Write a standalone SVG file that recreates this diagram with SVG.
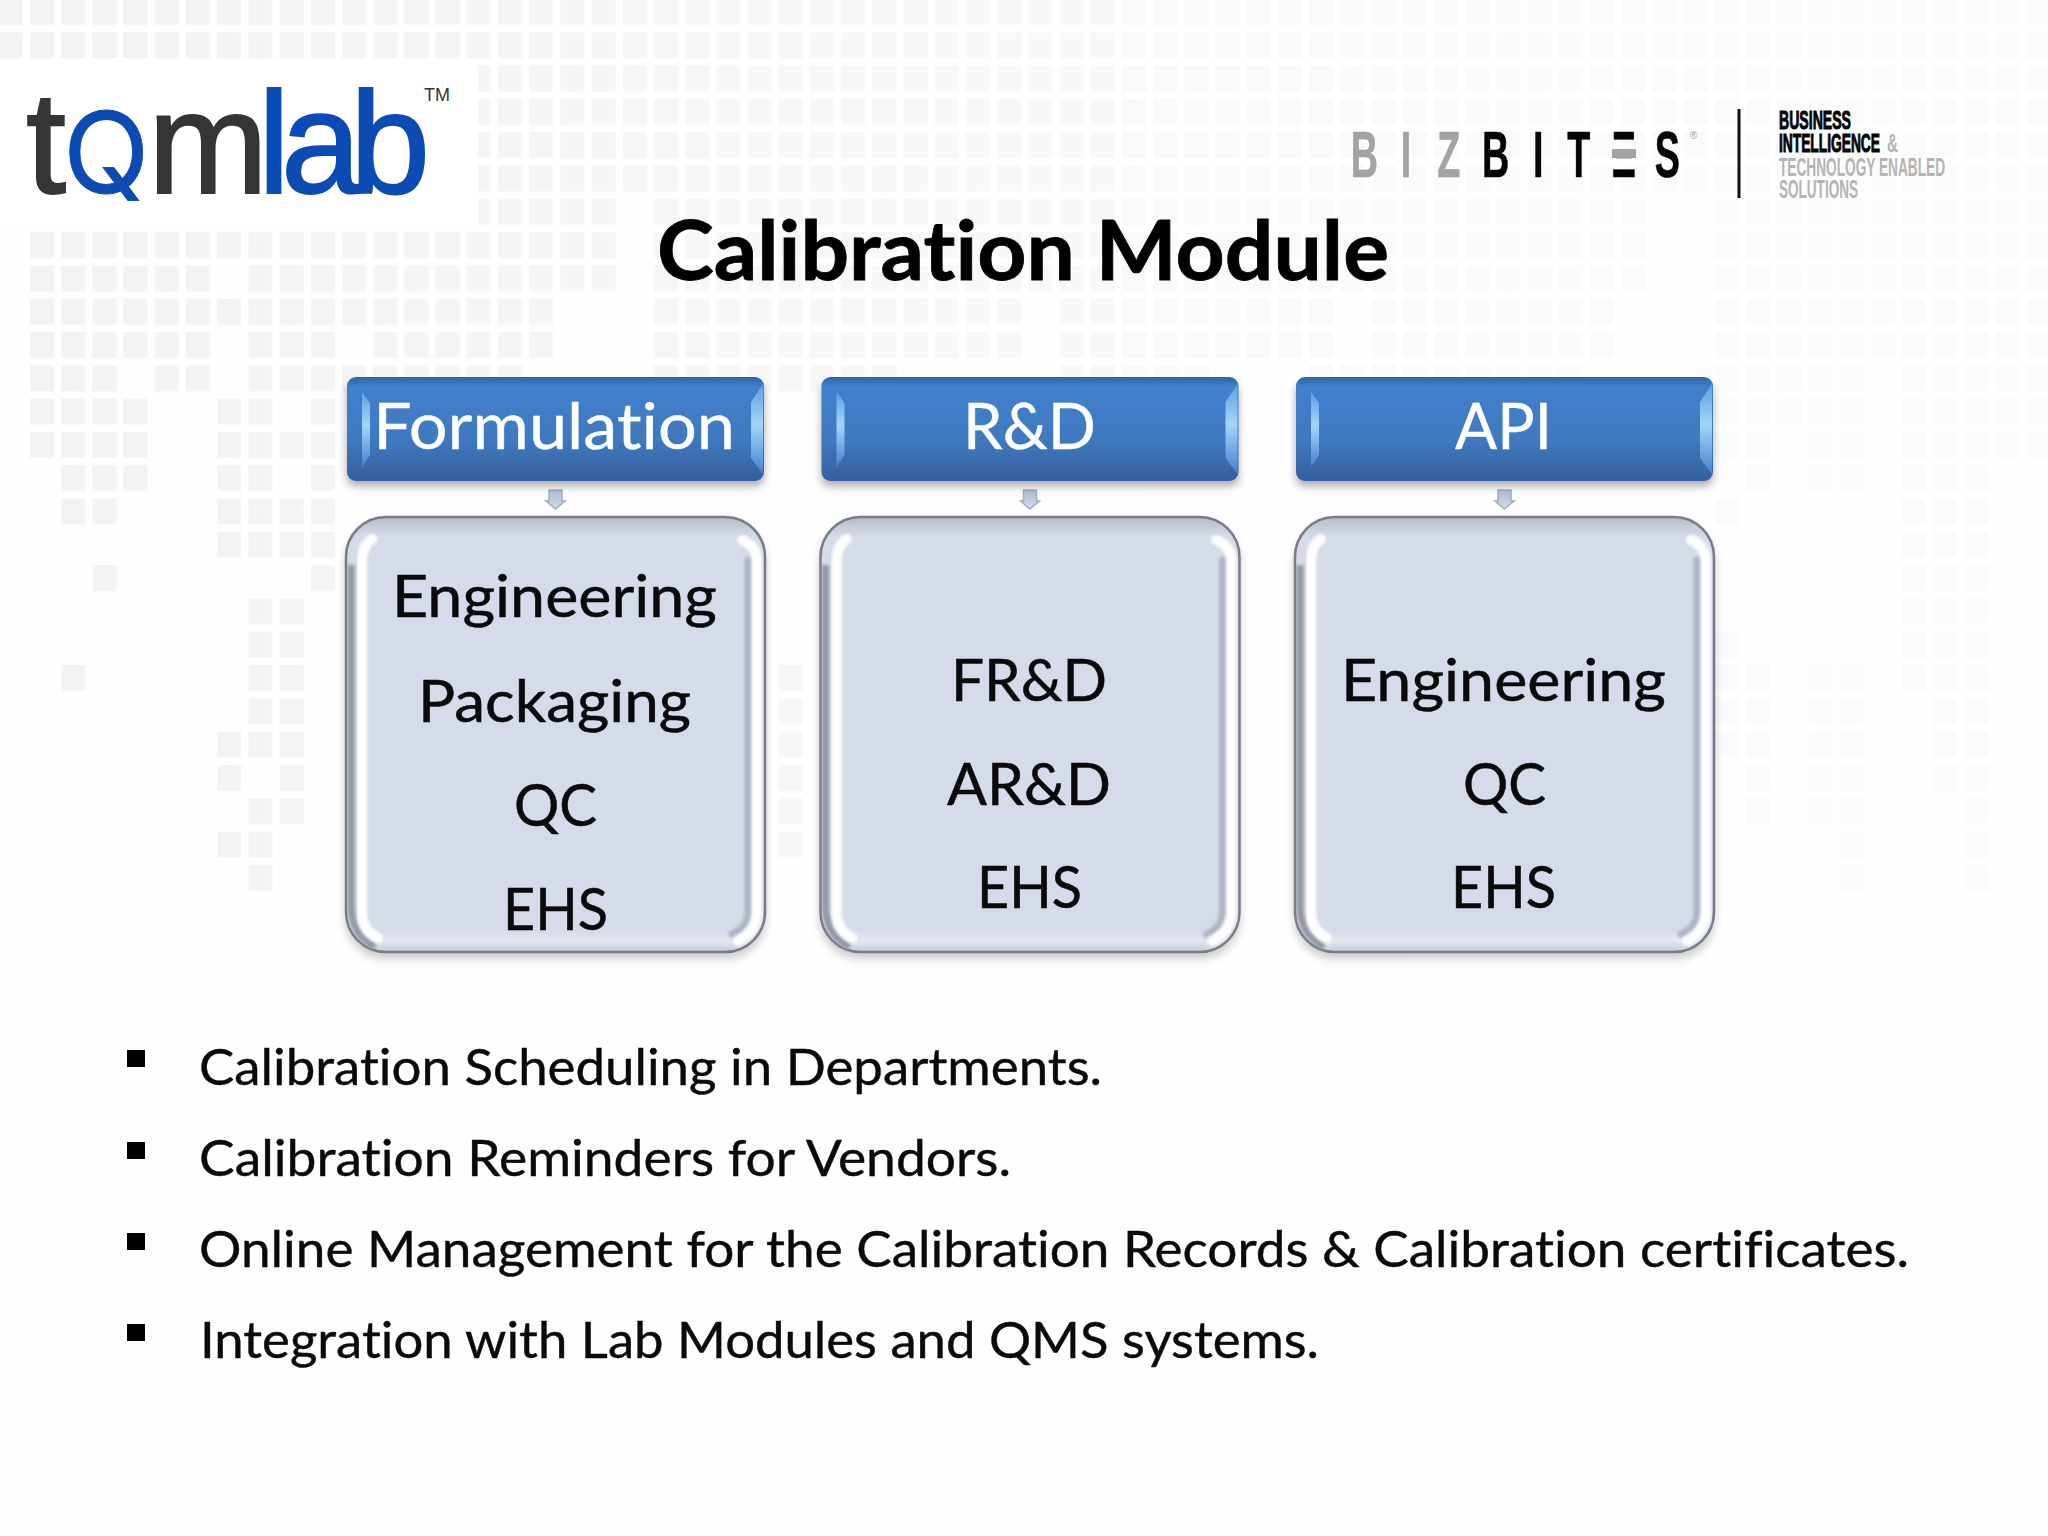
<svg xmlns="http://www.w3.org/2000/svg" xmlns:xlink="http://www.w3.org/1999/xlink" width="2048" height="1536" viewBox="0 0 2048 1536">
<style>
text{font-family:"Lato","Liberation Sans",sans-serif;font-variant-ligatures:none}
.hd{font-size:64px;fill:#fbfdff;stroke:#fbfdff;stroke-width:.4px}
.bd{font-size:58px;fill:#0a0a0a;stroke:#0a0a0a;stroke-width:.5px}
.bl{font-size:50px;fill:#0a0a0a;stroke:#0a0a0a;stroke-width:.4px}
.logo{font-family:"Liberation Sans",Arial,sans-serif;font-size:144px;stroke-width:2px}
.dk{fill:#353537;stroke:#353537}.bu{fill:#0b4bb3;stroke:#0b4bb3}
.bz{font-family:"Liberation Sans",Arial,sans-serif;font-weight:700;font-size:65px;stroke-width:.6px}
.gy{fill:#a3a3a3;stroke:#a3a3a3}.bk{fill:#050505;stroke:#050505}
.tg{font-family:"Liberation Sans",Arial,sans-serif;font-weight:700;font-size:25px}
.tn{fill:#b4b4b4}
</style>
<defs>
<pattern id="cell" patternUnits="userSpaceOnUse" width="1" height="1"><rect width=".77" height=".78" fill="#f2f2f3"/></pattern>
<linearGradient id="fade" x1="0" x2="1" y1="0" y2="0"><stop offset="0" stop-color="#fff" stop-opacity="0"/><stop offset=".35" stop-color="#fff" stop-opacity=".35"/><stop offset=".75" stop-color="#fff" stop-opacity=".65"/><stop offset="1" stop-color="#fff" stop-opacity=".7"/></linearGradient>
<linearGradient id="hg" x1="0" x2="0" y1="0" y2="1"><stop offset="0" stop-color="#2c65a9"/><stop offset=".1" stop-color="#4280cb"/><stop offset=".6" stop-color="#3f79bf"/><stop offset=".85" stop-color="#3869ab"/><stop offset="1" stop-color="#3260a2"/></linearGradient>
<linearGradient id="bev" x1="0" x2="0" y1="0" y2="1"><stop offset="0" stop-color="#5f9fe0"/><stop offset=".45" stop-color="#a4d4fb"/><stop offset="1" stop-color="#4382cc"/></linearGradient>
<linearGradient id="rim" x1="0" x2="0" y1="0" y2="1"><stop offset="0" stop-color="#b7bcc8"/><stop offset=".045" stop-color="#d5dbe8"/><stop offset=".95" stop-color="#d5dbe8"/><stop offset=".975" stop-color="#e3e7ef"/><stop offset="1" stop-color="#c4cad6"/></linearGradient>
<linearGradient id="arr" x1="0" x2="0" y1="0" y2="1"><stop offset="0" stop-color="#aebace"/><stop offset="1" stop-color="#d0dcf0"/></linearGradient>
<filter id="sh" x="-10%" y="-10%" width="120%" height="130%"><feGaussianBlur stdDeviation="4"/></filter>
<filter id="bl1" x="-30%" y="-10%" width="160%" height="120%"><feGaussianBlur stdDeviation="1.800"/></filter>
<filter id="bl0" x="-30%" y="-10%" width="160%" height="120%"><feGaussianBlur stdDeviation=".7"/></filter>
<g id="hdr">
<rect x="347" y="384" width="417" height="102" rx="8" fill="#444" opacity=".45" filter="url(#sh)"/>
<rect x="347" y="377" width="417" height="104" rx="9" fill="url(#hg)"/>
<path d="M362 392L370 403V455L362 467Z" fill="url(#bev)" filter="url(#bl0)"/>
<path d="M763 384V474L751 458V402Z" fill="url(#bev)" filter="url(#bl0)"/>
</g>
<g id="bdy">
<rect x="345" y="523" width="421" height="436" rx="40" fill="#666" opacity=".32" filter="url(#sh)"/>
<rect x="346" y="517" width="419" height="435" rx="40" fill="url(#rim)" stroke="#777c88" stroke-width="2.500"/>
<path d="M351 565V905Q351 935 375 947" fill="none" stroke="#9298a5" stroke-width="7" filter="url(#bl1)"/>
<path d="M372 539Q362 546 362 562V912Q362 930 378 938" fill="none" stroke="#fff" stroke-width="10" stroke-linecap="round" filter="url(#bl1)"/>
<path d="M748 560V912Q748 928 732 934" fill="none" stroke="#aeb4c6" stroke-width="7" stroke-linecap="round" filter="url(#bl1)"/>
<path d="M742 540Q757 546 757 562V912Q757 930 738 941" fill="none" stroke="#fff" stroke-width="10" stroke-linecap="round" filter="url(#bl1)"/>
</g>
<path id="ar" d="M549 490H562V501H565L555.500 509L546 501H549Z" fill="url(#arr)" stroke="#a3acbd" stroke-width="1.500"/>
</defs>

<rect width="2048" height="1536" fill="#fefefe"/>
<g id="background">
<g transform="translate(30,-1) scale(31.2,33.3)">
<path fill="url(#cell)" d="M-1 0h66v6h-66z
M-1 6h20v1h-20zM20 6h32v1h-32zM54 6h11v1h-11z
M0 7h19v1h-19zM20 7h32v1h-32zM54 7h11v1h-11z
M0 8h6v1h-6zM7 8h12v1h-12zM20 8h32v1h-32zM54 8h11v1h-11z
M0 9h17v1h-17zM20 9h12v1h-12zM33 9h9v1h-9zM43 9h8v1h-8zM54 9h11v1h-11z
M0 10h6v1h-6zM7 10h3v1h-3zM11 10h6v1h-6zM20 10h12v1h-12zM33 10h9v1h-9zM43 10h8v1h-8zM54 10h11v1h-11z
M0 11h3v1h-3zM4 11h2v1h-2zM7 11h9v1h-9zM20 11h8v1h-8zM33 11h5v1h-5zM41 11h9v1h-9zM54 11h5v1h-5zM60 11h5v1h-5z
M0 12h4v1h-4zM6 12h2v1h-2zM9 12h1v1h-1zM54 12h5v1h-5zM60 12h5v1h-5z
M0 13h4v1h-4zM6 13h4v1h-4zM54 13h2v1h-2zM57 13h2v1h-2zM60 13h5v1h-5z
M1 14h3v1h-3zM6 14h2v1h-2zM9 14h1v1h-1zM55 14h1v1h-1zM57 14h2v1h-2zM60 14h3v1h-3z
M1 15h2v1h-2zM6 15h4v2h-4zM54 15h1v1h-1zM60 15h3v6h-3z
M2 17h1v1h-1zM9 17h1v1h-1z
M7 18h2v4h-2zM54 19h1v4h-1z
M1 20h1v1h-1zM55 20h1v5h-1zM57 20h2v5h-2z
M61 21h2v3h-2zM6 22h1v2h-1zM7 22h2v1h-2zM8 23h1v1h-1z
M7 24h2v1h-2zM62 24h1v3h-1zM6 25h2v1h-2zM58 25h1v2h-1zM7 26h1v1h-1z
M24 20h1v6h-1z"/>
</g>
<rect width="2048" height="1000" fill="url(#fade)"/>
<rect x="0" y="59" width="478" height="166" fill="#fff"/>
</g>

<g id="tqmlab-logo">
<text class="logo dk" x="26" y="193">t</text>
<text class="logo bu" style="font-family:Inter,'Liberation Sans',sans-serif;font-size:113px;stroke-width:.8px" x="63" y="193">Q</text>
<text class="logo dk" x="148" y="193">m</text>
<text class="logo bu" x="258 281 350" y="193">lab</text>
<text x="424" y="101" font-size="18" style="font-family:'Liberation Sans',Arial,sans-serif" fill="#333">TM</text>
</g>

<g id="bizbites-logo">
<text class="bz" transform="translate(0,177) scale(.58,1)"><tspan class="gy" x="2329 2415 2478">BIZ</tspan><tspan class="bk" x="2555 2643 2702 2779 2853">BITΞS</tspan></text>
<rect x="1612" y="149" width="24" height="9" fill="#a3a3a3"/>
<text x="1690" y="139" font-size="10" fill="#a3a3a3" style="font-family:'Liberation Sans',Arial,sans-serif">®</text>
<rect x="1737.500" y="109" width="3" height="89" fill="#111"/>
<text class="tg bk" x="1779" y="129" textLength="72" lengthAdjust="spacingAndGlyphs">BUSINESS</text>
<text class="tg bk" x="1779" y="152" textLength="101" lengthAdjust="spacingAndGlyphs">INTELLIGENCE</text>
<text class="tg tn" x="1887" y="152" textLength="11" lengthAdjust="spacingAndGlyphs">&amp;</text>
<text class="tg tn" x="1779" y="176" textLength="166" lengthAdjust="spacingAndGlyphs">TECHNOLOGY ENABLED</text>
<text class="tg tn" x="1779" y="198" textLength="79" lengthAdjust="spacingAndGlyphs">SOLUTIONS</text>
</g>

<text id="title" x="657" y="280" font-size="82" font-weight="700" fill="#000" stroke="#000" stroke-width=".8" textLength="732" lengthAdjust="spacingAndGlyphs">Calibration Module</text>

<g id="connectors">
<use xlink:href="#ar" href="#ar"/>
<use xlink:href="#ar" href="#ar" x="474.500"/>
<use xlink:href="#ar" href="#ar" x="949"/>
</g>

<g id="node-formulation">
<use href="#hdr" xlink:href="#hdr"/>
<text class="hd" x="373" y="449" textLength="362" lengthAdjust="spacingAndGlyphs">Formulation</text>
</g>
<g id="node-rd">
<use href="#hdr" xlink:href="#hdr" x="474.500"/>
<text class="hd" x="963" y="449" textLength="133" lengthAdjust="spacingAndGlyphs">R&amp;D</text>
</g>
<g id="node-api">
<use href="#hdr" xlink:href="#hdr" x="949"/>
<text class="hd" x="1455" y="449" textLength="97" lengthAdjust="spacingAndGlyphs">API</text>
</g>

<g id="node-formulation-list">
<use href="#bdy" xlink:href="#bdy"/>
<text class="bd" x="392" y="617" textLength="325" lengthAdjust="spacingAndGlyphs">Engineering</text>
<text class="bd" x="418" y="722" textLength="273" lengthAdjust="spacingAndGlyphs">Packaging</text>
<text class="bd" x="514" y="826" textLength="83" lengthAdjust="spacingAndGlyphs">QC</text>
<text class="bd" x="503" y="930" textLength="105" lengthAdjust="spacingAndGlyphs">EHS</text>
</g>
<g id="node-rd-list">
<use href="#bdy" xlink:href="#bdy" x="474.500"/>
<text class="bd" x="951" y="701" textLength="156" lengthAdjust="spacingAndGlyphs">FR&amp;D</text>
<text class="bd" x="947" y="805" textLength="164" lengthAdjust="spacingAndGlyphs">AR&amp;D</text>
<text class="bd" x="977" y="908" textLength="105" lengthAdjust="spacingAndGlyphs">EHS</text>
</g>
<g id="node-api-list">
<use href="#bdy" xlink:href="#bdy" x="949"/>
<text class="bd" x="1341" y="701" textLength="325" lengthAdjust="spacingAndGlyphs">Engineering</text>
<text class="bd" x="1463" y="805" textLength="83" lengthAdjust="spacingAndGlyphs">QC</text>
<text class="bd" x="1451" y="908" textLength="105" lengthAdjust="spacingAndGlyphs">EHS</text>
</g>

<g id="bullets">
<rect x="127" y="1050" width="18" height="17" fill="#000"/>
<rect x="127" y="1142" width="18" height="17" fill="#000"/>
<rect x="127" y="1233" width="18" height="17" fill="#000"/>
<rect x="127" y="1324" width="18" height="17" fill="#000"/>
<text class="bl" x="199" y="1085" textLength="903" lengthAdjust="spacingAndGlyphs">Calibration Scheduling in Departments.</text>
<text class="bl" x="199" y="1176" textLength="812" lengthAdjust="spacingAndGlyphs">Calibration Reminders for Vendors.</text>
<text class="bl" x="199" y="1267" textLength="1710" lengthAdjust="spacingAndGlyphs">Online Management for the Calibration Records &amp; Calibration certificates.</text>
<text class="bl" x="200" y="1358" textLength="1119" lengthAdjust="spacingAndGlyphs">Integration with Lab Modules and QMS systems.</text>
</g>
</svg>
